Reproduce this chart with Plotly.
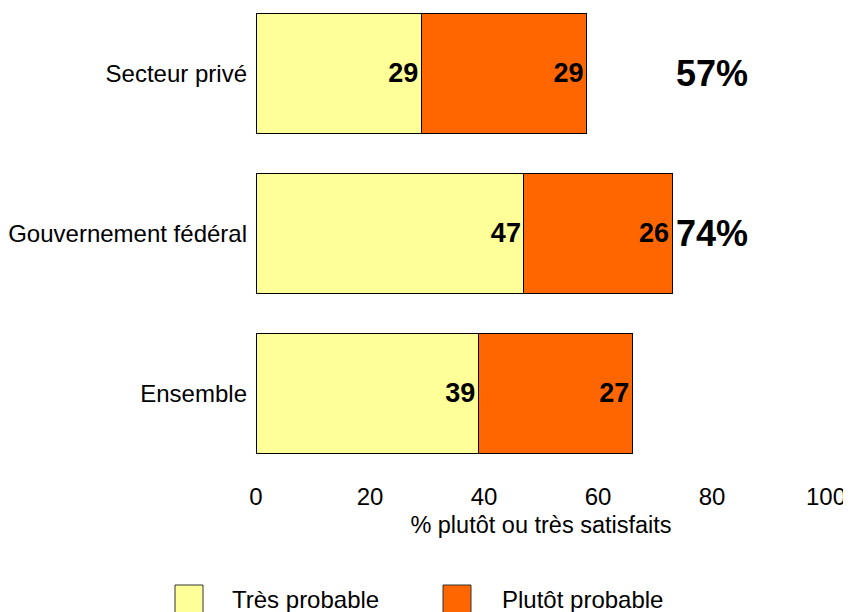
import plotly.graph_objects as go

categories = ["Secteur privé", "Gouvernement fédéral", "Ensemble"]
tres_probable = [29, 47, 39]
plutot_probable = [29, 26, 27]
totals = ["57%", "74%", ""]
series_names = ["Très probable", "Plutôt probable"]
colors = ["#FFFF99", "#FF6600"]
x_ticks = [0, 20, 40, 60, 80, 100]
x_title = "% plutôt ou très satisfaits"

REG = "Liberation Sans, Arial, sans-serif"

# the page body adds an 8px offset; layout is given in page pixels minus 8
OFF = 8
PL, PW, PT, PH = 256 - OFF, 570, 12 - OFF, 458

fig = go.Figure()
for name, vals, col in zip(series_names, [tres_probable, plutot_probable], colors):
    fig.add_trace(go.Bar(
        y=categories, x=vals, orientation="h", name=name,
        marker=dict(color=col, line=dict(color="#000000", width=1)),
        width=0.75,
        text=[str(v) for v in vals], textposition="inside",
        insidetextanchor="end", textangle=0,
        textfont=dict(family=REG, size=27, color="black", weight="bold"),
        showlegend=False, cliponaxis=False,
    ))

for cat, t in zip(categories, totals):
    if t:
        fig.add_annotation(x=80, y=cat, text=t, showarrow=False, xanchor="center",
                           font=dict(family=REG, size=36, color="black", weight="bold"))

# legend drawn manually (large square swatches), page coordinates
leg_x = [175, 443]
leg_text_x = [230, 500]
def px_x(p):
    return (p - OFF - PL) / PW
def px_y(p):
    return (PT + PH - (p - OFF)) / PH
for i, (name, col) in enumerate(zip(series_names, colors)):
    fig.add_shape(type="rect", xref="paper", yref="paper",
                  x0=px_x(leg_x[i]), x1=px_x(leg_x[i] + 28),
                  y0=px_y(625), y1=px_y(585),
                  fillcolor=col, line=dict(color="#333333", width=1))
    fig.add_annotation(xref="paper", yref="paper", x=px_x(leg_text_x[i]),
                       y=px_y(599), text=name, showarrow=False,
                       xanchor="left", yanchor="middle",
                       font=dict(family=REG, size=24, color="black"))

fig.update_layout(
    width=851, height=612,
    margin=dict(l=PL, r=851 - PL - PW, t=PT, b=612 - PT - PH, autoexpand=False),
    barmode="stack",
    plot_bgcolor="white", paper_bgcolor="white",
    xaxis=dict(range=[0, 100], tickvals=x_ticks, showgrid=False, zeroline=False,
               showline=False, ticks="", ticklabelstandoff=10, automargin=False,
               tickfont=dict(family=REG, size=24, color="black"),
               title=dict(text=x_title, standoff=7,
                          font=dict(family=REG, size=23.5, color="black"))),
    yaxis=dict(range=[2.481, -0.384], showgrid=False, zeroline=False, showline=False,
               ticks="", ticklabelstandoff=8, automargin=False,
               tickfont=dict(family=REG, size=24, color="black")),
)

fig.write_html("out.html")
